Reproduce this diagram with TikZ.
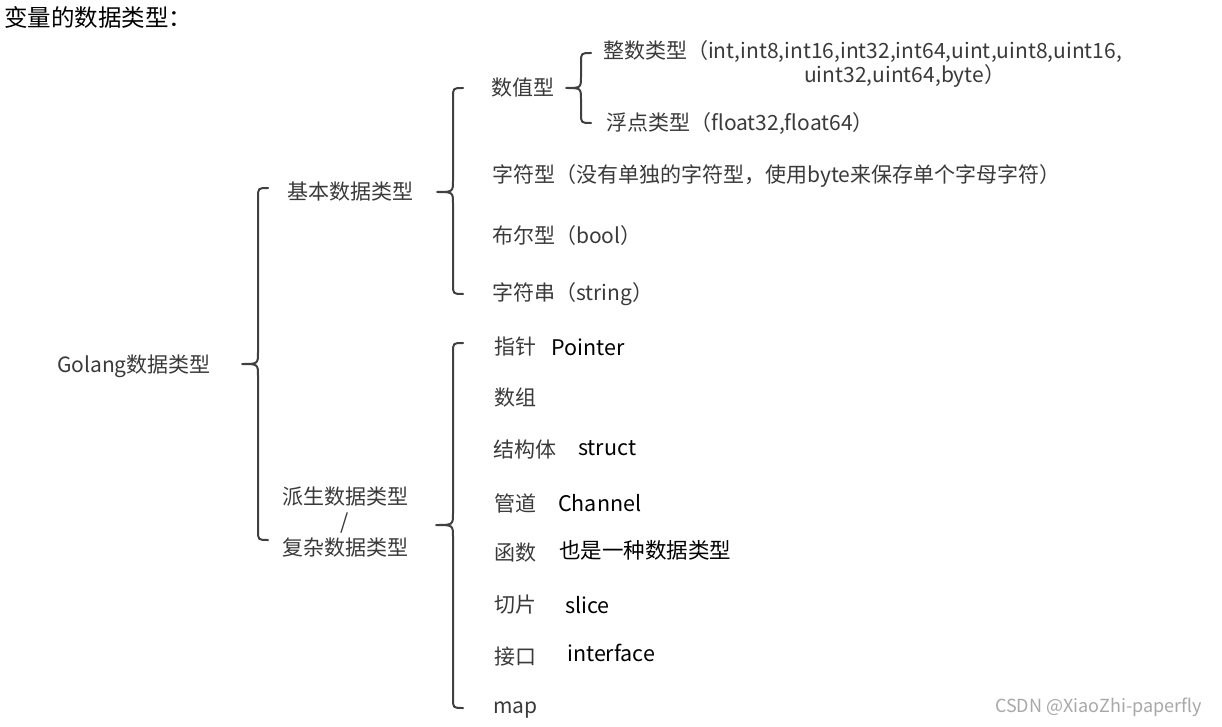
\documentclass[tikz,border=0pt]{standalone}
\usepackage{fontspec}
\setmainfont{Noto Sans CJK SC}
\definecolor{txtgrey}{HTML}{3A3A3A}
\definecolor{brgrey}{HTML}{404040}
\definecolor{wmgrey}{HTML}{A8A8A8}
\tikzset{
  lbl/.style={anchor=west, inner sep=0pt, text=txtgrey, font=\fontsize{21}{25}\selectfont},
  blk/.style={anchor=west, inner sep=0pt, text=black, font=\fontsize{21.5}{25}\selectfont},
  ttl/.style={anchor=west, inner sep=0pt, text=black, font=\fontsize{23.5}{27}\selectfont},
  wmark/.style={anchor=west, inner sep=0pt, text=wmgrey, font=\fontsize{18}{21}\selectfont},
  brc/.style={draw=brgrey, line width=2pt, line cap=round, line join=round},
}
% #1 vertical x, #2 top y, #3 bottom y, #4 tip x, #5 tip y
\newcommand\mybrace[5]{%
  \draw[brc] ({#1+10},#2) .. controls (#1,#2) .. (#1,{#2+10}) -- (#1,{#5-12})
    .. controls (#1,#5) .. (#4,#5) .. controls (#1,#5) .. (#1,{#5+12})
    -- (#1,{#3-10}) .. controls (#1,#3) .. ({#1+10},#3);}
\begin{document}
\begin{tikzpicture}[x=1pt,y=-1pt]
\fill[white] (0,0) rectangle (1222,727);
\useasboundingbox (0,0) rectangle (1222,727);

\node[ttl] (title) at (4,18) {变量的数据类型：};

\node[lbl] (golang) at (57,366) {Golang数据类型};
\node[lbl,anchor=center] (basic) at (350,192) {基本数据类型};
\node[lbl,anchor=center,align=center,font=\fontsize{21}{25.5}\selectfont] (derived) at (345,522) {派生数据类型\\/\\复杂数据类型};

% braces
\mybrace{258}{188}{540}{242}{364}
\mybrace{453}{88}{294}{437}{192}
\mybrace{453}{343}{708}{436}{525}
\mybrace{581}{53}{123}{566}{88}

% basic types
\node[lbl] (num) at (491,88) {数值型};
\node[lbl] (int1) at (603,52) {整数类型（int,int8,int16,int32,int64,uint,uint8,uint16,};
\node[lbl] (int2) at (804,76) {uint32,uint64,byte）};
\node[lbl] (float) at (606,124) {浮点类型（float32,float64）};
\node[lbl] (char) at (492,176) {字符型（没有单独的字符型，使用byte来保存单个字母字符）};
\node[lbl] (bool) at (492,236) {布尔型（bool）};
\node[lbl] (str) at (492,294) {字符串（string）};

% derived types
\node[lbl] (ptr) at (494,347) {指针};
\node[blk] (ptrE) at (551,347) {Pointer};
\node[lbl] (arr) at (494,398) {数组};
\node[lbl] (st) at (493,450) {结构体};
\node[blk] (stE) at (578,448) {struct};
\node[lbl] (ch) at (494,503) {管道};
\node[blk] (chE) at (558,503) {Channel};
\node[lbl] (fn) at (494,553) {函数};
\node[blk] (fnE) at (559,550) {也是一种数据类型};
\node[lbl] (sl) at (494,605) {切片};
\node[blk] (slE) at (565,605) {slice};
\node[lbl] (itf) at (494,657) {接口};
\node[blk] (itfE) at (567,653) {interface};
\node[lbl] (map) at (493,710) {map};

\node[wmark] (wm) at (995,707) {CSDN @XiaoZhi-paperfly};
\end{tikzpicture}
\end{document}
